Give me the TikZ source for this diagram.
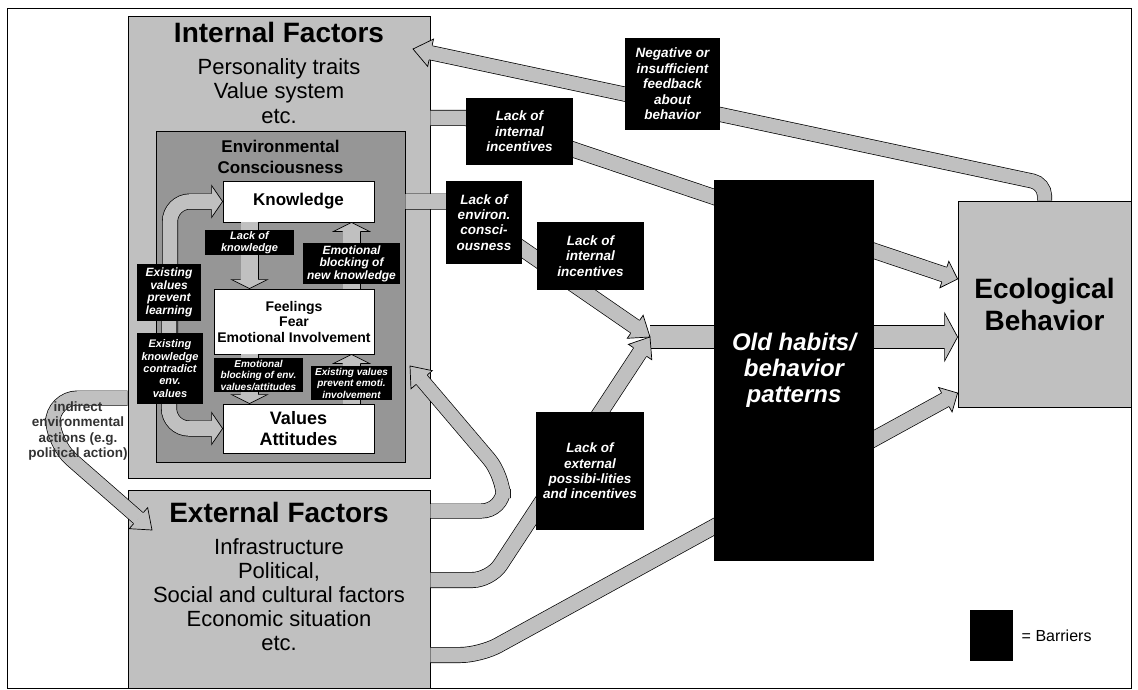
\documentclass[tikz,border=0pt]{standalone}
\usepackage{fontspec}
\setmainfont{Liberation Sans}
\usetikzlibrary{calc,positioning}
\definecolor{boxgray}{HTML}{C0C0C0}
\definecolor{envgray}{HTML}{969696}
\pgfdeclarelayer{back}
\pgfdeclarelayer{links}
\pgfsetlayers{back,links,main}
\newcommand\fs[2]{\fontsize{#1}{#2}\selectfont}
\newcommand\fathead[5]{%
  \path let \p1=($(#2)-(#1)$), \n1={atan2(\y1,\x1)} in (#2) pic[rotate=\n1] {head={#3}{#4}{#5}};}
\tikzset{
  box/.style={draw=black, line width=0.8pt, fill=boxgray, inner sep=0pt},
  whitebox/.style={draw=black, line width=0.8pt, fill=white, inner sep=0pt, align=center},
  barrier/.style 2 args={fill=black, text=white, align=center, inner sep=0pt, font=\fs{#1}{#2}\bfseries\itshape},
  fat/.style={draw=black, line width=0.7pt, double=boxgray, double distance=#1},
  fat/.default=13.6pt,
  pics/head/.style n args={3}{code={
    \fill[boxgray] (0,0) -- (-#1,#2) -- (-#1,-#2) -- cycle;
    \draw[line width=0.7pt, line join=miter] (-#1,#3) -- (-#1,#2) -- (0,0) -- (-#1,-#2) -- (-#1,-#3);
  }},
}

\begin{document}
\begin{tikzpicture}[x=1pt, y=-1pt]
  % Barriers to ecological behavior
  \useasboundingbox (0,0) rectangle (1138,690);

  \begin{pgfonlayer}{back}
  \fill[white] (0,0) rectangle (1138,690);
  \draw[line width=0.8pt] (7,8) rectangle (1131,688);
  \node[box, minimum width=302pt, minimum height=462pt] (int) at (279,247) {};
  \node[box, minimum width=302pt, minimum height=198pt] (ext) at (279,589) {};
  \node[box, minimum width=173pt, minimum height=206pt, align=center, font=\fs{28}{32}\bfseries] (eco) at (1044.5,304) {Ecological\\Behavior};
  \node[box, fill=envgray, minimum width=249pt, minimum height=331pt] (env) at (280.5,296.5) {};
  \node[whitebox, minimum width=151pt, minimum height=41pt, font=\fs{17}{20}\bfseries] (know) at (298.5,201.5) {Knowledge};
  \node[whitebox, minimum width=160pt, minimum height=65pt, font=\fs{14}{15.5}\bfseries] (feel) at (294,321.5) {Feelings\\Fear\\Emotional Involvement};
  \node[whitebox, minimum width=151pt, minimum height=49pt, font=\fs{18}{20.5}\bfseries] (val) at (298.5,428.5) {Values\\Attitudes};

  \node[anchor=north, align=center, font=\fs{22}{24.5}] (inttxt) at (279,19) {{\fs{28}{30}\bfseries Internal Factors}\\[7pt]Personality traits\\Value system\\etc.};
  \node[anchor=north, align=center, font=\fs{17}{21}\bfseries] (envtxt) at (280.5,137) {Environmental\\Consciousness};
  \node[anchor=north, align=center, font=\fs{22}{24}] (exttxt) at (279,499) {{\fs{28}{30}\bfseries External Factors}\\[8pt]Infrastructure\\Political,\\Social and cultural factors\\Economic situation\\etc.};
  \end{pgfonlayer}

  \node[barrier={11}{11.5}, minimum width=89pt, minimum height=25pt] (lk) at (249.5,242.5) {Lack of\\knowledge};
  \node[barrier={12}{12.5}, minimum width=97pt, minimum height=41pt] (ebnk) at (351.5,263.5) {Emotional\\blocking of\\new knowledge};
  \node[barrier={12}{12.7}, minimum width=64pt, minimum height=57pt] (evpl) at (169,292.5) {Existing\\values\\prevent\\learning};
  \node[barrier={11}{12.3}, minimum width=66pt, minimum height=71pt] (ekc) at (170,368.5) {Existing\\knowledge\\contradict\\env.\\values};
  \node[barrier={10}{11.5}, minimum width=89pt, minimum height=34pt] (ebv) at (258.5,375) {Emotional\\blocking of env.\\values/attitudes};
  \node[barrier={10}{11.5}, minimum width=81pt, minimum height=34pt] (evpe) at (351.5,383) {Existing values\\prevent emoti.\\involvement};
  \node[barrier={13.5}{15.5}, minimum width=107pt, minimum height=67pt] (lii1) at (519.5,131.5) {Lack of\\internal\\incentives};
  \node[barrier={13.5}{15.3}, minimum width=76pt, minimum height=83pt] (lec) at (484,222.5) {Lack of\\environ.\\consci-\\ousness};
  \node[barrier={13.5}{15.5}, minimum width=107pt, minimum height=68pt] (lii2) at (590.5,256) {Lack of\\internal\\incentives};
  \node[barrier={13.5}{15.5}, minimum width=95pt, minimum height=92pt] (neg) at (672.5,84) {Negative or\\insufficient\\feedback\\about\\behavior};
  \node[barrier={13.5}{15.3}, minimum width=108pt, minimum height=118pt] (lepi) at (590,471) {Lack of\\external\\possibi-lities\\and incentives};
  \node[barrier={24}{26}, minimum width=160pt, minimum height=381pt] (old) at (794,370.5) {Old habits/\\behavior\\patterns};

  \node[align=center, font=\fs{13.5}{15.3}\bfseries, text=black!80] (indir) at (78,431) {indirect\\environmental\\actions (e.g.\\political action)};
  \node[fill=black, minimum width=43pt, minimum height=51pt, inner sep=0pt] (key) at (991.5,635.5) {};
  \node[right=5pt of key, font=\fs{16}{18}] (keytxt) {= Barriers};

  \begin{pgfonlayer}{links}
  \coordinate (fbk) at ($(eco.north)+(0,-17)$);
  \coordinate (fbtip) at (413,49);
  \draw[fat, rounded corners=12pt, shorten >=17.5pt] (eco.north) -- (fbk) -- (fbtip);
  \fathead{fbk}{fbtip}{18}{14}{7.5}

  \coordinate (s1) at ([yshift=13.5pt]lii1.west);
  \coordinate (t1) at ([yshift=25pt]eco.west);
  \draw[fat=14.6pt, shorten >=13.5pt] (s1 -| int.east) -- (s1) -- (lii1.center) -- (t1);
  \fathead{lii1.center}{t1}{14}{14}{8}

  \coordinate (m1) at (650,337);
  \coordinate (t4) at (m1 -| eco.west);
  \draw[fat=22.6pt, shorten >=12.5pt] (m1) -- (t4);
  \fathead{m1}{t4}{13}{24}{12}

  \draw[fat=14.6pt, shorten >=17.5pt] (know.east -| env.east) -- (know.east -| lec.center) -- (lec.center) -- (m1);
  \fathead{lec.center}{m1}{18}{14}{8}

  \draw[fat=14.6pt, rounded corners=18pt, shorten >=17.5pt] ([yshift=9pt]ext.east) -- ++(60,0) coordinate (c1) -- (m1);
  \fathead{c1}{m1}{18}{14}{8}

  \coordinate (t2) at (410,366);
  \draw[fat, rounded corners=22pt, shorten >=17.5pt] ([yshift=78pt]ext.east) -- ++(73,0) -- ++(0,-35) coordinate (c2) -- (t2);
  \fathead{c2}{t2}{18}{14}{7.5}

  \coordinate (t3) at ([yshift=-89pt]eco.west);
  \draw[fat=14.6pt, rounded corners=20pt, shorten >=13.5pt] ([yshift=-66pt]ext.east) -- ++(50,0) coordinate (c3) -- (t3);
  \fathead{c3}{t3}{14}{14}{8}

  \coordinate (t5) at (152,530);
  \draw[fat, rounded corners=25pt, shorten >=17.5pt] ([yshift=-151pt]int.west) -- ++(-75,0) -- ++(0,45) coordinate (c5) -- (t5);
  \fathead{c5}{t5}{18}{14}{7.5}

  \draw[fat=16.6pt, shorten >=8.5pt] (lk |- know.south) -- (lk |- feel.north);
  \fathead{lk |- know.south}{lk |- feel.north}{9}{18}{9}
  \draw[fat=16.6pt, shorten >=8.5pt] (ebnk |- feel.north) -- (ebnk |- know.south);
  \fathead{ebnk |- feel.north}{ebnk |- know.south}{9}{18}{9}
  \draw[fat=16.6pt, shorten >=8.5pt] (lk |- feel.south) -- (lk |- val.north);
  \fathead{lk |- feel.south}{lk |- val.north}{9}{18}{9}
  \draw[fat=16.6pt, shorten >=8.5pt] (ebnk |- val.north) -- (ebnk |- feel.south);
  \fathead{ebnk |- val.north}{ebnk |- feel.south}{9}{18}{9}

  \draw[fat=14.6pt, rounded corners=20pt, shorten >=10.5pt] (ekc.center) -- (ekc |- know.west) -- (know.west);
  \fathead{ekc |- know.west}{know.west}{11}{16}{8}
  \draw[fat=14.6pt, rounded corners=20pt, shorten >=10.5pt] (evpl.center) -- (evpl |- val.west) -- (val.west);
  \fathead{evpl |- val.west}{val.west}{11}{16}{8}
  \end{pgfonlayer}
\end{tikzpicture}
\end{document}
